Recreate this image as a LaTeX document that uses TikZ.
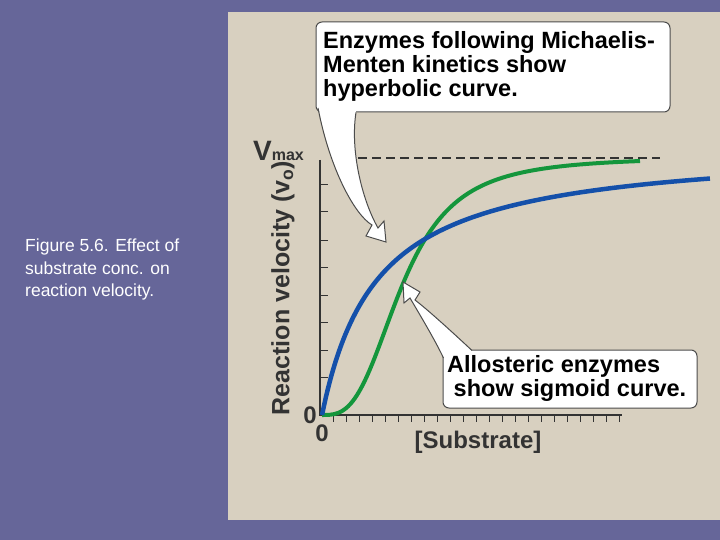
\documentclass[tikz,border=0pt]{standalone}
\usepackage{fontspec}
\setmainfont{Liberation Sans}
\begin{document}
\begin{tikzpicture}[x=1pt,y=-1pt,
  callout/.style={draw=black!70,line width=1pt,fill=white,rounded corners=6pt},
  big/.style={font=\bfseries\fontsize{23.5}{24}\selectfont,align=left,inner sep=0pt},
  axislbl/.style={font=\bfseries\fontsize{24}{24}\selectfont,text=black!80}]
\definecolor{bg}{RGB}{102,102,153}
\definecolor{panel}{RGB}{216,208,192}
\definecolor{cblue}{RGB}{20,80,170}
\definecolor{cgreen}{RGB}{20,150,60}
\fill[bg] (0,0) rectangle (720,540);
\fill[panel] (228,12) rectangle (720,520);
\node[anchor=north west,text=white,align=left,font=\fontsize{17.5}{22.5}\selectfont,inner sep=0pt] (cap) at (25,239) {Figure 5.6. Effect of\\substrate conc. on\\reaction velocity.};
% axes
\draw[black!80,line width=1.2pt] (320,160) -- (320,415) -- (622,415);
\foreach \y in {185,212,240,267,295,322,350,377} \draw[black!80,line width=1pt] (320,\y) -- (328,\y);
\foreach \x in {333,346,...,620} \draw[black!80,line width=1pt] (\x,415) -- (\x,422);
\draw[black!80,dashed,dash pattern=on 9pt off 5pt,line width=1.2pt] (358,158) -- (660,158);
\node[axislbl,anchor=south west,inner sep=0pt] (vmax) at (253,161) {\fontsize{28}{28}\selectfont V\fontsize{16}{16}\selectfont max};
\node[axislbl,rotate=90,font=\bfseries\fontsize{25}{25}\selectfont] (ylab) at (283,288) {Reaction velocity (v\textsubscript{o})};
\node[axislbl] (z1) at (310,415) {0};
\node[axislbl] (z2) at (322,433) {0};
\node[axislbl] (xlab) at (478,442) {[Substrate]};
% curves
\draw[cgreen,line width=4pt] plot[smooth,domain=0:3.18,samples=80] ({100*\x+322},{415-258*(\x)^3/(0.512+(\x)^3)});
\draw[cblue,line width=4.5pt] plot[smooth,domain=0:3.88,samples=100] ({100*\x+322},{415-270*\x/(0.55+\x)});
% callout 1
\draw[callout] (316,22) rectangle (670,112);
\fill[white] (318,105) .. controls (330,170) and (355,215) .. (372,225) -- (366,236) -- (386,242) -- (384,221) -- (378,228) .. controls (362,200) and (350,150) .. (356,111) -- cycle;
\draw[black!70,line width=1pt] (318,108) .. controls (330,170) and (355,215) .. (372,225) -- (366,236) -- (386,242) -- (384,221) -- (378,228) .. controls (362,200) and (350,150) .. (356,112.5);
\node[big,anchor=north west] (t1) at (323,31) {Enzymes following Michaelis-\\Menten kinetics show\\hyperbolic curve.};
% callout 2
\draw[callout] (443,350) rectangle (697,408);
\fill[white] (472,351) .. controls (450,330) and (428,310) .. (415,300) -- (420,292) -- (403,282) -- (404,303) -- (410,298) .. controls (420,315) and (435,340) .. (445,360) -- cycle;
\draw[black!70,line width=1pt] (472,350.5) .. controls (450,330) and (428,310) .. (415,300) -- (420,292) -- (403,282) -- (404,303) -- (410,298) .. controls (420,315) and (435,340) .. (443.5,358);
\node[big,anchor=north west] (t2) at (447,355) {Allosteric enzymes\\\ show sigmoid curve.};
\end{tikzpicture}
\end{document}
